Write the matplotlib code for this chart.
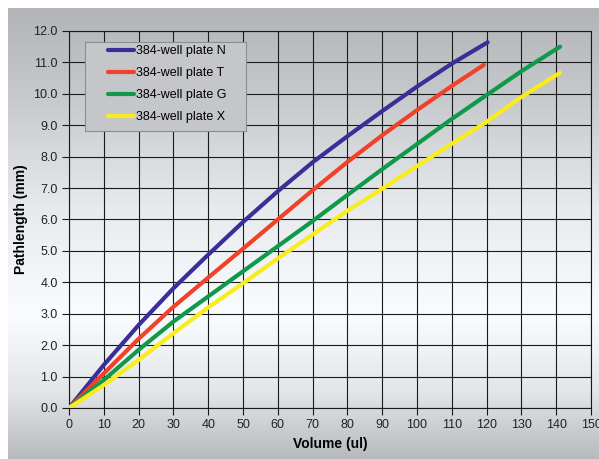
import numpy as np
import matplotlib
matplotlib.use("Agg")
import matplotlib.pyplot as plt
from matplotlib.patches import Rectangle

plt.rcParams['font.family'] = ['Liberation Sans', 'DejaVu Sans']

# ---- data ----
series_names = ["384-well plate N", "384-well plate T", "384-well plate G", "384-well plate X"]
x_N = [0, 10, 20, 30, 40, 50, 60, 70, 80, 90, 100, 110, 120.3]
y_N = [0, 1.37, 2.64, 3.81, 4.88, 5.92, 6.90, 7.82, 8.65, 9.45, 10.23, 10.96, 11.64]
x_T = [0, 10, 20, 30, 40, 50, 60, 70, 80, 90, 100, 110, 119.2]
y_T = [0, 1.10, 2.20, 3.22, 4.15, 5.07, 6.00, 6.93, 7.83, 8.68, 9.48, 10.25, 10.92]
x_G = [0, 10, 20, 30, 40, 50, 60, 70, 80, 90, 100, 110, 120, 130, 141.1]
y_G = [0, 0.89, 1.85, 2.75, 3.55, 4.35, 5.15, 5.95, 6.78, 7.60, 8.40, 9.20, 9.96, 10.72, 11.50]
x_X = [0, 10, 20, 30, 40, 50, 60, 70, 80, 90, 100, 110, 120, 130, 141.1]
y_X = [0, 0.73, 1.53, 2.38, 3.20, 3.97, 4.76, 5.52, 6.28, 6.98, 7.70, 8.41, 9.11, 9.90, 10.67]
colors = ["#3a2e99", "#f0422b", "#10994a", "#f8ec1c"]

x_ticks = list(range(0, 151, 10))
y_ticks = [i * 1.0 for i in range(0, 13)]

W, H = 599, 459
fig = plt.figure(figsize=(W / 100, H / 100), dpi=100)
fig.patch.set_facecolor("white")

# gradient background
bg = fig.add_axes([8 / W, 0, 1 - 8 / W, 1 - 8 / H], zorder=0)
stops_pos = [0.0, 0.2, 0.45, 0.68, 0.85, 1.0]
stops_val = [0.71, 0.79, 0.92, 0.99, 0.90, 0.73]
t = np.linspace(0, 1, 400)
v = np.interp(t, stops_pos, stops_val)
grad = np.stack([v - 0.01, v, v + 0.01], axis=-1).clip(0, 1)[:, None, :]
bg.imshow(grad, aspect="auto", extent=[0, 1, 0, 1], interpolation="bilinear")
bg.axis("off")

ax = fig.add_axes([69 / W, 1 - 408 / H, (591 - 69) / W, (408 - 31) / H], zorder=1)
ax.set_facecolor("none")

for xs, ys, c, n in zip([x_N, x_T, x_G, x_X], [y_N, y_T, y_G, y_X], colors, series_names):
    ax.plot(xs, ys, color=c, lw=3.0, label=n, solid_capstyle="round", zorder=3)

ax.set_xlim(0, 150)
ax.set_ylim(0, 12)
ax.set_xticks(x_ticks)
ax.set_yticks(y_ticks)
ax.set_yticklabels([f"{v:.1f}" for v in y_ticks])
ax.grid(True, color="#1a1a1a", lw=0.8)
ax.set_axisbelow(True)
for s in ax.spines.values():
    s.set_color("#1a1a1a")
    s.set_linewidth(0.8)
ax.tick_params(direction="out", length=5, width=0.8, color="#1a1a1a",
               labelsize=9, labelcolor="#222222", pad=3)

ax.set_xlabel("Volume (ul)", fontsize=10, fontweight="bold", labelpad=4)
ax.set_ylabel("Pathlength (mm)", fontsize=10, fontweight="bold", labelpad=4)

# legend box
x0 = (85 - 69) / 522
x1 = (246 - 69) / 522
y0 = (408 - 131) / 377
y1 = (408 - 42) / 377
ax.add_patch(Rectangle((x0, y0), x1 - x0, y1 - y0, transform=ax.transAxes,
                       facecolor="#c4c6c9", edgecolor="#8c8e90", lw=0.8, zorder=4))
leg = ax.legend(loc="upper left", bbox_to_anchor=((108 - 69) / 522, (408 - 45) / 377),
                frameon=False, fontsize=9, handlelength=2.1, handletextpad=0.15,
                labelspacing=0.8, borderpad=0, borderaxespad=0)
leg.set_zorder(5)
for line in leg.get_lines():
    line.set_linewidth(3.0)

fig.savefig("out.png", dpi=100)
